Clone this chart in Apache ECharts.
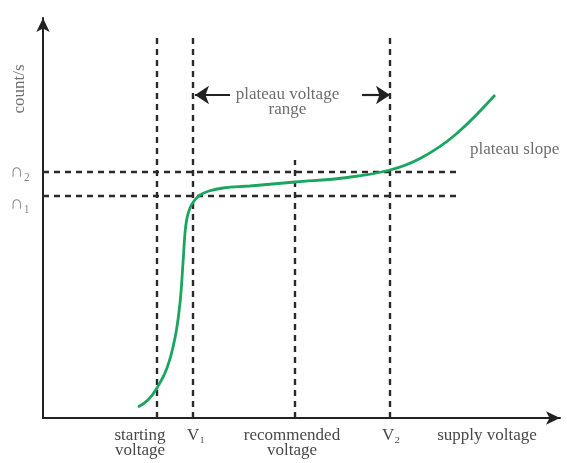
<!DOCTYPE html>
<html>
<head>
<meta charset="utf-8">
<script src="https://cdn.jsdelivr.net/npm/echarts@6/dist/echarts.min.js"></script>
<style>
  html, body { margin: 0; padding: 0; background: #fff; }
  #chart { width: 567px; height: 463px; }
</style>
</head>
<body>
<div id="chart"></div>
<script>
// characteristic curve of a counter tube (arbitrary units)
const curveX = [95, 105, 114, 124, 132, 137, 140, 142, 144, 147, 151, 157, 166, 180, 207, 252, 300, 347, 378, 412, 452]
const curveY = [11, 18, 30, 50, 80, 115, 155, 185, 200, 210, 217, 223, 227, 230, 232, 236, 240, 248, 260, 283, 323]

// guide lines
const guideX = [114, 150, 252, 347]
const guideXTop = [381, 381, 258, 381]
const guideY = [246, 222]
const guideYEnd = 417

// tick labels
const xLabelPos = [97, 153, 249, 348, 444]
const xLabels = ['starting\nvoltage', 'V₁', 'recommended\nvoltage', 'V₂', 'supply voltage']
const yLabels = ['∩₂', '∩₁']

const rangeLeft = 152
const rangeRight = 347
const rangeY = 323

const font = '"Liberation Serif", "DejaVu Serif", serif'
const textColor = '#484848'
const dash = [6, 5]

const chart = echarts.init(document.getElementById('chart'))

const series = []

guideX.forEach((x, i) => {
  series.push({
    type: 'line',
    data: [[x, 0], [x, guideXTop[i]]],
    symbol: 'none',
    silent: true,
    lineStyle: { color: '#2a2a2a', width: 2.4, type: dash }
  })
})
guideY.forEach((y) => {
  series.push({
    type: 'line',
    data: [[0, y], [guideYEnd, y]],
    symbol: 'none',
    silent: true,
    lineStyle: { color: '#2a2a2a', width: 2.4, type: dash }
  })
})

series.push({
  type: 'line',
  data: curveX.map((x, i) => [x, curveY[i]]),
  smooth: 0.4,
  symbol: 'none',
  lineStyle: { color: '#1aa65e', width: 2.8 }
})

series.push({
  type: 'lines',
  coordinateSystem: 'cartesian2d',
  symbol: ['none', 'arrow'],
  symbolSize: [10, 14],
  lineStyle: { color: '#222', width: 2.2, opacity: 1 },
  data: [
    { coords: [[rangeLeft + 35, rangeY], [rangeLeft, rangeY]] },
    { coords: [[rangeRight - 28, rangeY], [rangeRight, rangeY]] }
  ]
})

series.push({
  type: 'scatter',
  symbolSize: 0,
  clip: false,
  silent: true,
  label: {
    show: true,
    fontFamily: font,
    fontSize: 17,
    color: textColor,
    lineHeight: 15
  },
  data: [
    { value: [(rangeLeft + rangeRight) / 2 - 5, rangeY - 7], label: { formatter: 'plateau voltage\nrange' } },
    { value: [427, 268], label: { formatter: 'plateau slope', align: 'left' } },
    { value: [-23, 329], label: { formatter: 'count/s', rotate: 90 } }
  ]
})

chart.setOption({
  animation: false,
  grid: { left: 43, top: 18, width: 517, height: 400 },
  xAxis: {
    type: 'value',
    min: 0,
    max: 517,
    splitLine: { show: false },
    axisTick: { show: false },
    axisLine: {
      lineStyle: { color: '#222', width: 2 },
      symbol: ['none', 'arrow'],
      symbolSize: [10, 14]
    },
    axisLabel: {
      customValues: xLabelPos,
      formatter: (v) => xLabels[xLabelPos.indexOf(v)],
      fontFamily: font,
      fontSize: 17,
      color: textColor,
      lineHeight: 15,
      margin: 10
    }
  },
  yAxis: {
    type: 'value',
    min: 0,
    max: 400,
    splitLine: { show: false },
    axisTick: { show: false },
    axisLine: {
      lineStyle: { color: '#222', width: 2 },
      symbol: ['none', 'arrow'],
      symbolSize: [10, 14]
    },
    axisLabel: {
      customValues: guideY,
      formatter: (v) => v === guideY[0] ? yLabels[0] : '{lo|' + yLabels[1] + '}',
      fontFamily: font,
      fontSize: 19,
      color: '#888',
      margin: 13,
      rich: { lo: { padding: [16, 0, 0, 0], fontFamily: font, fontSize: 19, color: '#888' } }
    }
  },
  series
})
</script>
</body>
</html>
